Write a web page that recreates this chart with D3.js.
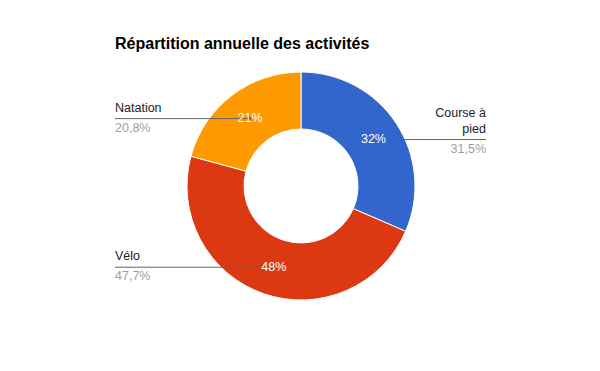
<!DOCTYPE html>
<html>
<head>
<meta charset="utf-8">
<script src="https://cdn.jsdelivr.net/npm/d3@7"></script>
<style>
  body { margin: 0; background: #fff; }
  text { font-family: Arial, "Liberation Sans", sans-serif; }
</style>
</head>
<body>
<div id="container"></div>
<script>
var categories = ["Course à pied", "Vélo", "Natation"];
var values = [31.5, 47.7, 20.8];
var colors = ["#3366cc", "#dc3912", "#ff9900"];

var w = 600, h = 371;
var cx = 301, cy = 186, rOut = 114, rIn = 57;

var svg = d3.select("div#container").append("svg")
  .attr("width", w).attr("height", h);

svg.append("text")
  .attr("x", 115).attr("y", 49)
  .attr("font-size", 16).attr("font-weight", "bold")
  .attr("fill", "#000")
  .text("Répartition annuelle des activités");

var fr = d3.formatLocale({decimal: ",", thousands: " ", grouping: [3], currency: ["", "€"]});
var fmtOut = fr.format(".1f");

var data = categories.map(function(c, i) { return {name: c, value: values[i], color: colors[i]}; });
var total = d3.sum(values);

var pie = d3.pie().sort(null).value(function(d) { return d.value; });
var arc = d3.arc().innerRadius(rIn).outerRadius(rOut);
var mid = d3.arc().innerRadius((rIn + rOut) / 2).outerRadius((rIn + rOut) / 2);

var g = svg.append("g").attr("transform", "translate(" + cx + "," + cy + ")");
var arcs = pie(data);

g.selectAll("path.slice")
  .data(arcs)
  .enter().append("path")
  .attr("class", "slice")
  .attr("d", arc)
  .attr("fill", function(d) { return d.data.color; })
  .attr("stroke", "#fff")
  .attr("stroke-width", 1);

// labels + leader lines
arcs.forEach(function(d) {
  var p = mid.centroid(d);
  var px = cx + p[0], py = cy + p[1];
  var right = p[0] > 0;
  var tx = right ? 486 : 115;

  svg.append("line")
    .attr("x1", px).attr("y1", py + 0.5)
    .attr("x2", tx).attr("y2", py + 0.5)
    .attr("stroke", "#636363").attr("stroke-width", 1);
  svg.append("circle")
    .attr("cx", px).attr("cy", py + 0.5).attr("r", 2)
    .attr("fill", "#636363");

  // in-ring percent
  svg.append("text")
    .attr("x", px + 1).attr("y", py + 4)
    .attr("text-anchor", "middle")
    .attr("font-size", 12.5)
    .attr("fill", "#fff")
    .text(Math.round(d.data.value / total * 100) + "%");

  // wrap name
  var lines = right && d.data.name.length > 10 ? ["Course à", "pied"] : [d.data.name];
  lines.reverse().forEach(function(l, i) {
    svg.append("text")
      .attr("x", tx).attr("y", py - 6.5 - i * 15.3)
      .attr("text-anchor", right ? "end" : "start")
      .attr("font-size", 12.5)
      .attr("fill", "#222")
      .text(l);
  });

  svg.append("text")
    .attr("x", tx).attr("y", py + 13.5)
    .attr("text-anchor", right ? "end" : "start")
    .attr("font-size", 12.5)
    .attr("fill", "#9e9e9e")
    .text(fmtOut(d.data.value) + "%");
});
</script>
</body>
</html>
